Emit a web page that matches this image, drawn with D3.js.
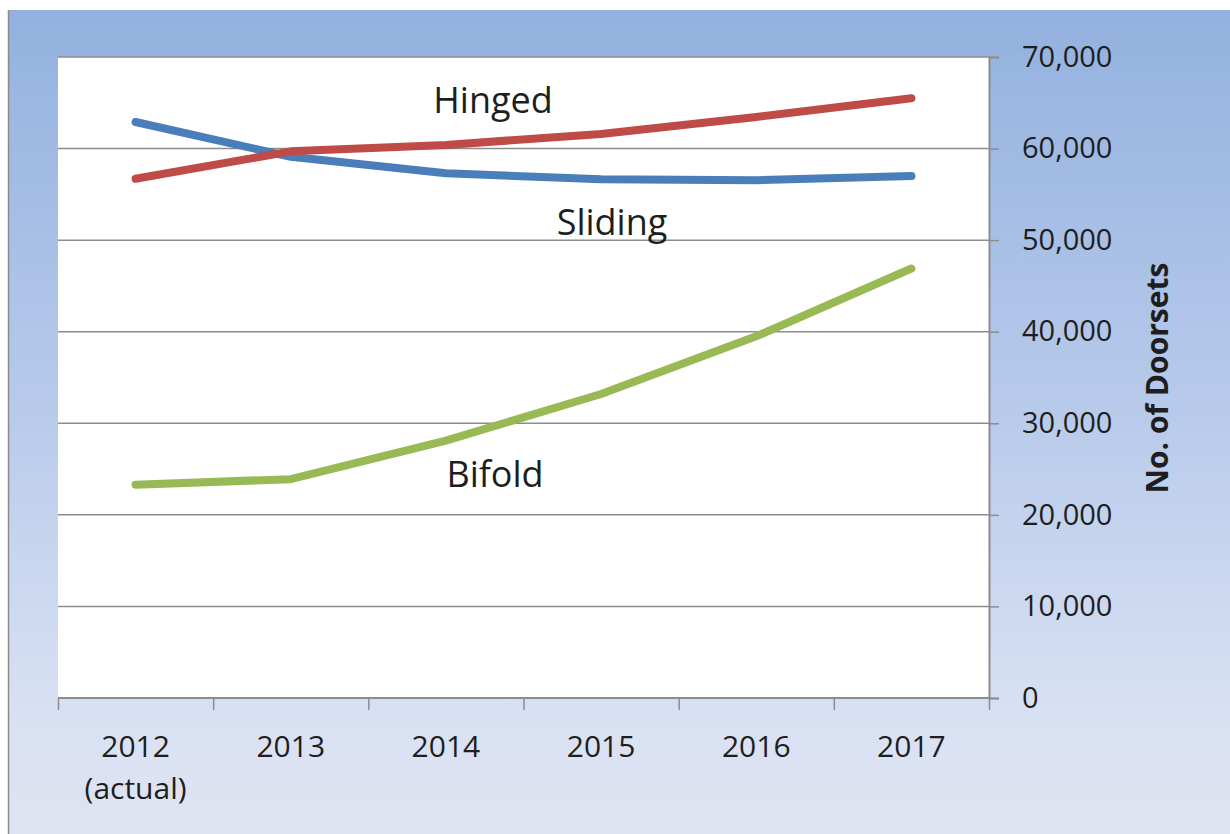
<!DOCTYPE html>
<html>
<head>
<meta charset="utf-8">
<script src="https://cdn.jsdelivr.net/npm/d3@7"></script>
<style>
  html, body { margin: 0; padding: 0; background: #ffffff; }
  svg { display: block; }
  text { font-family: "Open Sans", "Noto Sans", sans-serif; fill: #1e1e1e; }
</style>
</head>
<body>
<svg id="chart" width="1230" height="834"></svg>
<script>
// ---- data ----
const categories = ["2012", "2013", "2014", "2015", "2016", "2017"];
const categoryLabels = [["2012", "(actual)"], ["2013"], ["2014"], ["2015"], ["2016"], ["2017"]];
const hinged  = [56700, 59700, 60400, 61600, 63450, 65500];
const sliding = [62900, 59100, 57300, 56650, 56550, 57000];
const bifold  = [23300, 23900, 28100, 33200, 39500, 46900];
const seriesNames = ["Hinged", "Sliding", "Bifold"];
const yTicks = [0, 10000, 20000, 30000, 40000, 50000, 60000, 70000];
const axisTitle = "No. of Doorsets";

// ---- layout ----
const W = 1230, H = 834;
const plot = { left: 58, right: 989, top: 57, bottom: 698 };
const svg = d3.select("#chart");

const defs = svg.append("defs");
const grad = defs.append("linearGradient").attr("id", "bg").attr("x1", 0).attr("y1", 0).attr("x2", 0).attr("y2", 1);
grad.append("stop").attr("offset", "0%").attr("stop-color", "#93b1df");
grad.append("stop").attr("offset", "50%").attr("stop-color", "#b9cbeb");
grad.append("stop").attr("offset", "85%").attr("stop-color", "#d8e1f3");
grad.append("stop").attr("offset", "100%").attr("stop-color", "#e0e3f1");

// background frame
svg.append("rect").attr("x", 9).attr("y", 10).attr("width", W - 9).attr("height", H - 10).attr("fill", "url(#bg)");
svg.append("line").attr("x1", 8.5).attr("x2", 8.5).attr("y1", 10).attr("y2", H)
  .attr("stroke", "#8a8a8a").attr("stroke-width", 1.5);

// plot area
svg.append("rect").attr("x", plot.left).attr("y", plot.top)
  .attr("width", plot.right - plot.left).attr("height", plot.bottom - plot.top).attr("fill", "#ffffff");

// scales
const x = d3.scaleBand().domain(categories).range([plot.left, plot.right]).padding(0);
const xEdge = d3.scaleLinear().domain([0, categories.length]).range([plot.left, plot.right]);
const y = d3.scaleLinear().domain([0, 70000]).range([plot.bottom, plot.top]);
const cx = d => x(d) + x.bandwidth() / 2;

// gridlines
svg.append("g").selectAll("line").data(yTicks.filter(t => t > 0)).join("line")
  .attr("x1", plot.left).attr("x2", plot.right)
  .attr("y1", d => y(d)).attr("y2", d => y(d))
  .attr("stroke", "#8c8c8c").attr("stroke-width", 1.5);

// right y axis
const yAxis = svg.append("g").attr("transform", `translate(${plot.right},0)`)
  .call(d3.axisRight(y).tickValues(yTicks).tickSize(10).tickPadding(23).tickFormat(d3.format(",")));
yAxis.select(".domain").attr("stroke", "#8c8c8c").attr("stroke-width", 2);
yAxis.selectAll(".tick line").attr("stroke", "#8c8c8c").attr("stroke-width", 1.5);
yAxis.selectAll(".tick text").attr("font-size", 29).attr("fill", "#1e1e1e")
  .style("font-family", '"Open Sans", sans-serif');

// bottom axis: tick marks at category edges
const xAxis = svg.append("g").attr("transform", `translate(0,${plot.bottom})`)
  .call(d3.axisBottom(xEdge).tickValues(d3.range(categories.length + 1)).tickSize(12).tickFormat(""));
xAxis.select(".domain").attr("stroke", "#8c8c8c").attr("stroke-width", 2)
  .attr("d", `M${plot.left},0H${plot.right}`);
xAxis.selectAll(".tick line").attr("stroke", "#8c8c8c").attr("stroke-width", 1.5);

// category labels
const xLab = svg.append("g").selectAll("text").data(categories).join("text")
  .attr("x", d => cx(d)).attr("y", plot.bottom + 59)
  .attr("text-anchor", "middle").attr("font-size", 30);
xLab.each(function(d, i) {
  const t = d3.select(this);
  categoryLabels[i].forEach((s, j) => {
    t.append("tspan").attr("x", cx(d)).attr("dy", j === 0 ? 0 : 42).text(s);
  });
});

// axis title
svg.append("text").attr("transform", `translate(1168,378) rotate(-90)`)
  .attr("text-anchor", "middle").attr("font-size", 30).attr("font-weight", "bold").text(axisTitle);

// lines
const line = d3.line().x((d, i) => cx(categories[i])).y(d => y(d)).curve(d3.curveLinear);
const series = [
  { name: seriesNames[1], values: sliding, color: "#4a7ebb" },
  { name: seriesNames[0], values: hinged,  color: "#be4b48" },
  { name: seriesNames[2], values: bifold,  color: "#98b954" }
];
svg.append("g").selectAll("path").data(series).join("path")
  .attr("d", d => line(d.values))
  .attr("fill", "none").attr("stroke", d => d.color)
  .attr("stroke-width", 8).attr("stroke-linecap", "round").attr("stroke-linejoin", "round");

// series labels
const labelPos = [
  { text: seriesNames[0], x: 493, y: 113 },
  { text: seriesNames[1], x: 612, y: 235 },
  { text: seriesNames[2], x: 495, y: 487 }
];
svg.append("g").selectAll("text").data(labelPos).join("text")
  .attr("x", d => d.x).attr("y", d => d.y).attr("text-anchor", "middle")
  .attr("font-size", 36).text(d => d.text);
</script>
</body>
</html>
